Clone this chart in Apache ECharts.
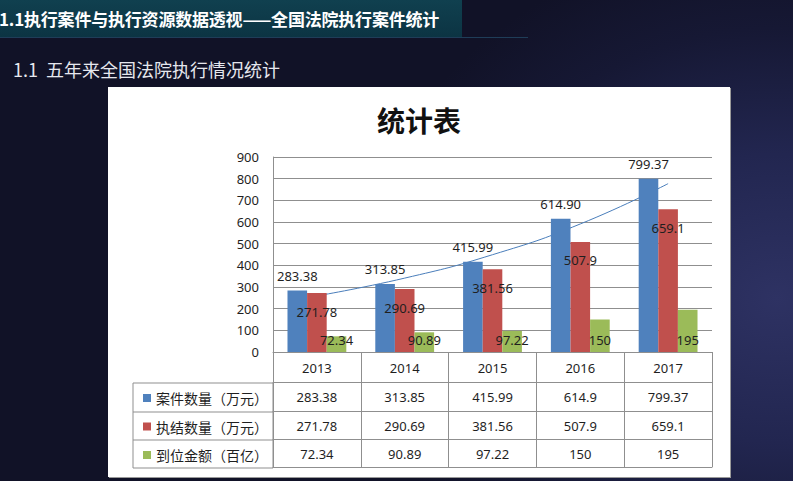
<!DOCTYPE html>
<html>
<head>
<meta charset="utf-8">
<script src="https://cdn.jsdelivr.net/npm/echarts@6/dist/echarts.min.js"></script>
<style>
  html, body { margin: 0; padding: 0; }
  body {
    width: 793px; height: 481px; overflow: hidden; position: relative;
    background: radial-gradient(ellipse 420px 360px at 98% 62%, #2e3263 0%, #222650 40%, #161834 75%, #111227 100%);
    font-family: 'Noto Sans', 'Noto Sans CJK SC', sans-serif;
  }
  .bar {
    position: absolute; left: 0; top: 0; width: 462px; height: 37px;
    background: linear-gradient(180deg, #10404f 0%, #0c3443 100%);
  }
  .bar-line {
    position: absolute; left: 0; top: 37px; width: 528px; height: 1px; background: #1f3d58;
  }
  .head {
    position: absolute; left: -1px; top: 6px; color: #ffffff;
    font: bold 17px 'Noto Sans CJK SC', sans-serif; letter-spacing: -0.2px; white-space: nowrap;
  }
  .sub {
    position: absolute; left: 13px; top: 56px; color: #e6e7ee;
    font: 18px 'Noto Sans CJK SC', sans-serif; white-space: pre;
  }
  #main {
    position: absolute; left: 108px; top: 87px; width: 622px; height: 390px;
    background: #ffffff; box-shadow: 1px 1px 0 #9a9a9a;
  }
</style>
</head>
<body>
<div class="bar"></div>
<div class="bar-line"></div>
<div class="head">1.1执行案件与执行资源数据透视——全国法院执行案件统计</div>
<div class="sub">1.1  五年来全国法院执行情况统计</div>
<div id="main"></div>
<script>
// data
const years = ['2013', '2014', '2015', '2016', '2017'];
const caseCounts = [283.38, 313.85, 415.99, 614.9, 799.37];
const closedCounts = [271.78, 290.69, 381.56, 507.9, 659.1];
const amounts = [72.34, 90.89, 97.22, 150, 195];
const trendValues = [259, 341, 449, 591, 777];
const seriesNames = ['案件数量（万元）', '执结数量（万元）', '到位金额（百亿）'];

const gridColor = '#8f8f8f';
const textColor = '#1f1f1f';
const numFont = "'Noto Sans', sans-serif";
const cjkFont = "'Noto Sans CJK SC', sans-serif";

const chart = echarts.init(document.getElementById('main'), null, { renderer: 'svg' });

// one category axis per table row, stacked under the plot with offsets
function rowAxis(offset, tickLen, values) {
  return {
    type: 'category',
    data: years,
    position: 'bottom',
    offset: offset,
    axisLine: { show: true, lineStyle: { color: gridColor, width: 1 } },
    axisTick: { show: tickLen > 0, interval: 0, length: tickLen, lineStyle: { color: gridColor, width: 1 } },
    axisLabel: {
      show: !!values, interval: 0, margin: 8, color: textColor, fontSize: 13, fontFamily: numFont,
      formatter: (v, i) => values ? String(values[i]) : ''
    },
    splitLine: { show: false }
  };
}

const option = {
  title: {
    text: '统计表',
    left: 'center',
    top: 14,
    textStyle: { fontSize: 28, fontWeight: 'bold', color: '#111', fontFamily: cjkFont }
  },
  legend: {
    data: seriesNames,
    orient: 'vertical',
    left: 30,
    top: 299,
    itemWidth: 8,
    itemHeight: 8,
    itemGap: 14.5,
    icon: 'rect',
    selectedMode: false,
    textStyle: { fontSize: 14, lineHeight: 14, color: textColor, fontFamily: cjkFont }
  },
  grid: { left: 165, right: 18, top: 70, bottom: 125 },
  xAxis: [
    {
      type: 'category',
      data: years,
      position: 'bottom',
      axisLine: { show: true, lineStyle: { color: gridColor, width: 1 } },
      axisTick: { show: true, interval: 0, length: 30, lineStyle: { color: gridColor, width: 1 } },
      axisLabel: { interval: 0, margin: 9, color: textColor, fontSize: 13, fontFamily: numFont }
    },
    rowAxis(30, 29, caseCounts),
    rowAxis(59, 28, closedCounts),
    rowAxis(87, 28, amounts),
    rowAxis(115, 0, null)
  ],
  yAxis: {
    type: 'value',
    min: 0,
    max: 900,
    interval: 100,
    axisLine: { show: true, lineStyle: { color: gridColor, width: 1 } },
    axisTick: { show: false },
    axisLabel: { margin: 14, color: textColor, fontSize: 13, fontFamily: numFont },
    splitLine: { lineStyle: { color: gridColor, width: 1 } }
  },
  graphic: [
    // legend column of the data table
    { type: 'rect', shape: { x: 25, y: 296, width: 140, height: 85 }, style: { fill: 'none', stroke: gridColor, lineWidth: 1 } },
    { type: 'line', shape: { x1: 25, y1: 325, x2: 165, y2: 325 }, style: { stroke: gridColor, lineWidth: 1 } },
    { type: 'line', shape: { x1: 25, y1: 353, x2: 165, y2: 353 }, style: { stroke: gridColor, lineWidth: 1 } }
  ],
  series: [
    {
      name: '趋势线',
      type: 'line',
      data: trendValues,
      smooth: true,
      symbol: 'none',
      z: 1,
      lineStyle: { color: '#4a7ebb', width: 1 },
      silent: true
    },
    {
      name: seriesNames[0],
      type: 'bar',
      data: caseCounts,
      z: 2,
      barGap: '0%',
      barCategoryGap: '33%',
      itemStyle: { color: '#4f81bd' },
      label: {
        show: true, position: 'top', distance: 8, color: textColor, fontSize: 13, fontFamily: numFont,
        formatter: p => p.value.toFixed(2)
      }
    },
    {
      name: seriesNames[1],
      type: 'bar',
      data: closedCounts,
      z: 2,
      itemStyle: { color: '#c0504d' },
      label: {
        show: true, position: 'insideTop', distance: 12, color: textColor, fontSize: 13, fontFamily: numFont,
        formatter: p => String(p.value)
      }
    },
    {
      name: seriesNames[2],
      type: 'bar',
      data: amounts,
      z: 2,
      itemStyle: { color: '#9bbb59' },
      label: {
        show: true, position: 'insideBottom', distance: 6, color: textColor, fontSize: 13, fontFamily: numFont,
        formatter: p => String(p.value)
      }
    }
  ]
};

chart.setOption(option);
</script>
</body>
</html>
